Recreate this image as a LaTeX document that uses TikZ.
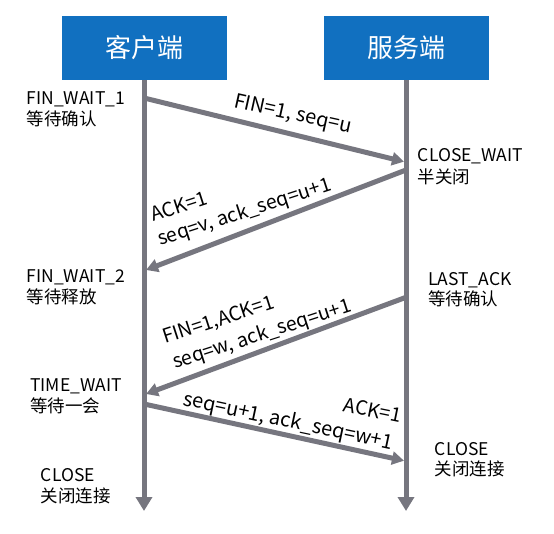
\documentclass[tikz,border=0pt]{standalone}
\usepackage{fontspec}
\setmainfont{Noto Sans CJK SC}
\usetikzlibrary{arrows.meta}
\definecolor{hdblue}{HTML}{1170C0}
\definecolor{lgray}{HTML}{76767F}
\tikzset{
  header/.style={fill=hdblue, text=white, minimum width=165pt, minimum height=64pt, inner sep=0pt, font=\fontsize{26}{30}\selectfont},
  life/.style={draw=lgray, line width=5pt, -{Triangle[length=14pt,width=16pt]}},
  msg/.style={draw=lgray, line width=5pt, -{Triangle[length=12pt,width=13pt]}},
  state/.style={inner sep=0pt, font=\fontsize{17.5}{21}\selectfont, anchor=base west},
  lbl/.style={inner sep=0pt, font=\fontsize{19.5}{24}\selectfont, anchor=base west},
  lblr/.style={lbl, anchor=base east}
}
\begin{document}
\begin{tikzpicture}[x=1pt,y=-1pt]
\useasboundingbox (0,0) rectangle (554,534);
\node[header] (cli) at (144,48) {客户端};
\node[header] (srv) at (406,48) {服务端};
\coordinate (cend) at (144,511);
\coordinate (send) at (406,511);
\draw[life] (cli.south -| cend) -- (cend);
\draw[life] (srv.south -| send) -- (send);
% message endpoints
\coordinate (m1s) at (144,98);
\coordinate (m1e) at (404,161.7);
\coordinate (m2s) at (406,170);
\coordinate (m2e) at (146,270);
\coordinate (m3s) at (406,297.3);
\coordinate (m3e) at (146,394);
\coordinate (m4s) at (144,404);
\coordinate (m4e) at (404,460.7);
\draw[msg] (m1s) -- (m1e);
\draw[msg] (m2s) -- (m2e);
\draw[msg] (m3s) -- (m3e);
\draw[msg] (m4s) -- (m4e);
% state labels
\node[state] (s1a) at (26.5,105) {FIN\_WAIT\_1};
\node[state] (s1b) at (26.5,126) {等待确认};
\node[state] (s2a) at (417.7,162) {CLOSE\_WAIT};
\node[state] (s2b) at (417.7,183.5) {半关闭};
\node[state] (s3a) at (26.5,283) {FIN\_WAIT\_2};
\node[state] (s3b) at (26.5,303.5) {等待释放};
\node[state] (s4a) at (428,285.5) {LAST\_ACK};
\node[state] (s4b) at (428,306) {等待确认};
\node[state] (s5a) at (30,391.7) {TIME\_WAIT};
\node[state] (s5b) at (30,412) {等待一会};
\node[state] (s6a) at (434.7,455) {CLOSE};
\node[state] (s6b) at (434.7,475.5) {关闭连接};
\node[state] (s7a) at (40.7,481.7) {CLOSE};
\node[state] (s7b) at (40.7,502.5) {关闭连接};
% message labels
\node[lbl, rotate=-12.5, font=\fontsize{20}{24}\selectfont] (l1) at (233,107) {FIN=1, seq=u};
\node[lbl, rotate=18] (l2a) at (153,222) {ACK=1};
\node[lbl, rotate=18] (l2b) at (160,246) {seq=v, ack\_seq=u+1};
\node[lbl, rotate=18] (l3a) at (165,344) {FIN=1,ACK=1};
\node[lbl, rotate=18] (l3b) at (175,369) {seq=w, ack\_seq=u+1};
\node[lblr, rotate=-11.5] (l4a) at (400,423) {ACK=1};
\node[lbl, rotate=-12, font=\fontsize{20}{24}\selectfont] (l4b) at (182,405) {seq=u+1, ack\_seq=w+1};
\end{tikzpicture}
\end{document}
